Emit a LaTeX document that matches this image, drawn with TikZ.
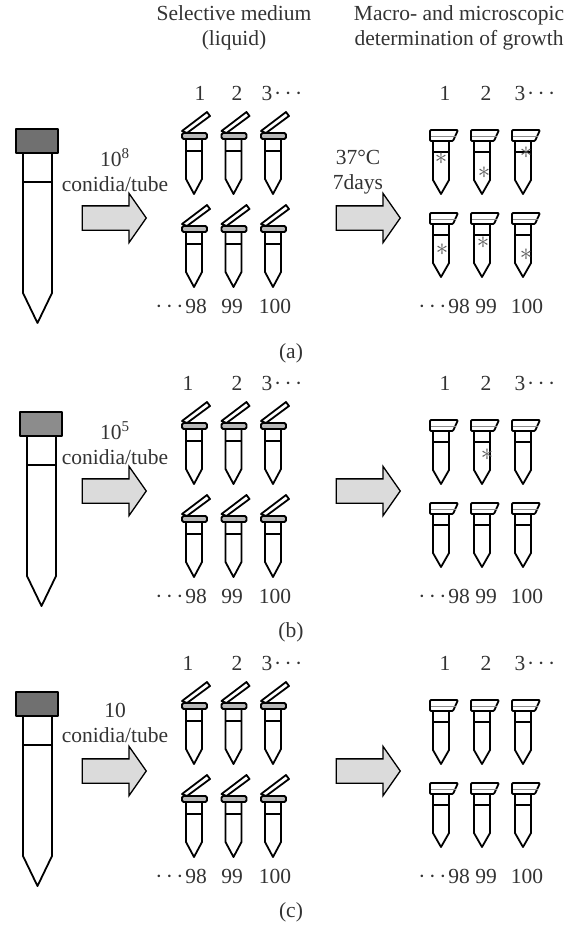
\documentclass[tikz,border=0pt]{standalone}
\usepackage{fontspec}
\setmainfont{Liberation Serif}
\usepackage{tikz}
\usetikzlibrary{shapes.arrows, positioning}

\definecolor{capdark}{gray}{0.44}
\definecolor{capmid}{gray}{0.55}
\definecolor{barfill}{gray}{0.72}
\definecolor{arrowfill}{gray}{0.86}
\definecolor{inktext}{gray}{0.2}

\tikzset{
  tubeline/.style={line width=1.8pt, line join=round},
  blockarrow/.style={draw, line width=1.3pt, fill=arrowfill, shape=single arrow,
    minimum height=64pt, inner xsep=0pt, inner ysep=11.5pt,
    single arrow head extend=12.5pt, single arrow tip angle=110},
  lbl/.style={font=\fontsize{21.5}{25}\selectfont, text=inktext, inner sep=0pt},
  num/.style={lbl, text height=1.5ex, text depth=.25ex},
  growth/.style={font=\fontsize{26}{26}\selectfont, text=black!65, inner sep=0pt}
}

% spaced row of dots
\newcommand{\dotrow}{\makebox[10.5pt]{·}\makebox[10.5pt]{·}\makebox[10.5pt]{·}}

% open tube: (centre x, top of lid bar)
\newcommand{\opentube}[2]{%
  \begin{scope}[shift={(#1,#2)}, tubeline]
    \draw (-8,6) -- (-8,46) -- (0,61) -- (8,46) -- (8,6);
    \draw (-8,18) -- (8,18);
    \draw[fill=white] (-12,-2) -- (13,-21) -- (16,-17) -- (-7,0) -- cycle;
    \draw[fill=barfill, rounded corners=1.5pt] (-12,0) rectangle (13,6);
  \end{scope}}

% closed tube: (centre x, top of cap)
\newcommand{\shuttube}[2]{%
  \begin{scope}[shift={(#1,#2)}, tubeline]
    \draw (-8,11) -- (-8,50) -- (0,64) -- (8,50) -- (8,11);
    \draw (-8,22) -- (8,22);
    \draw[fill=white, rounded corners=1pt] (-11,11) -- (-11,0) -- (17,0) -- (12,11) -- cycle;
    \draw[line width=1pt, black!45] (-10,6) -- (14.5,6);
  \end{scope}}

\begin{document}
\begin{tikzpicture}[x=1pt, y=-1pt]
  \useasboundingbox (0,0) rectangle (571,930);

  % column headers
  \node[lbl, align=center] (hdmedium) at (234,28) {Selective medium\\(liquid)};
  \node[lbl, align=center] (hdgrowth) at (459,28) {Macro- and microscopic\\determination of growth};

  % one row per dilution
  \foreach \p/\dose/\yg/\yt/\ya/\yl/\capcol/\xs/\xone in
    {a/{10\textsuperscript{8}}/0/0/0/0/capdark/0/200,
     b/{10\textsuperscript{5}}/290/283/273/279/capmid/4/188,
     c/{10}/570/563/553/559/capdark/0/188}{
    % stock tube
    \begin{scope}[shift={(\xs,\yt)}, tubeline]
      \draw (23,153) -- (23,293) -- (37.5,323) -- (52,293) -- (52,153);
      \draw (23,182) -- (52,182);
      \draw[fill=\capcol] (16,129) rectangle (58,153);
    \end{scope}
    % inoculation and read-out arrows
    \node[lbl, align=center] (dose-\p) at (115,{170+\ya}) {\dose\\conidia/tube};
    \node[blockarrow] (inoc-\p) at (110,{218+\ya}) {};
    \node[blockarrow] (read-\p) at (364,{218+\ya}) {};
    % tubes with medium
    \foreach \cx in {194,233.5,273} {
      \opentube{\cx}{133+\yg}
      \opentube{\cx}{226+\yg}
    }
    \foreach \cx in {441,482,523} {
      \shuttube{\cx}{130+\yg}
      \shuttube{\cx}{213+\yg}
    }
    % tube numbers
    \foreach \x/\t in {\xone/1,237/2,445/1,486/2}
      \node[num] (no\t-\x-\p) at (\x,{98+\yg}) {\t};
    \node[num, anchor=west] (nothree-l-\p) at (261.5,{98+\yg}) {3\dotrow};
    \node[num, anchor=west] (nothree-r-\p) at (514.5,{98+\yg}) {3\dotrow};
    \node[num, anchor=east] (nolast-l-\p) at (207,{311+\yg}) {\dotrow98};
    \node[num, anchor=east] (nolast-r-\p) at (470,{311+\yg}) {\dotrow98};
    \foreach \x/\t in {232/99,275/100,486/99,527/100}
      \node[num] (no\t-\x-\p) at (\x,{311+\yg}) {\t};
    % panel tag
    \node[lbl] (tag-\p) at (291,{353+\yl}) {(\p)};
  }

  % incubation
  \node[lbl, align=center] (incub) at (358,172) {37°C\\7days};

  % tubes showing growth
  \foreach \x/\y [count=\i] in {441/159, 484/173, 526/153, 442/250, 483/243, 526/255, 487/455}
    \node[growth] (hit\i) at (\x,\y) {$\ast$};
\end{tikzpicture}
\end{document}
